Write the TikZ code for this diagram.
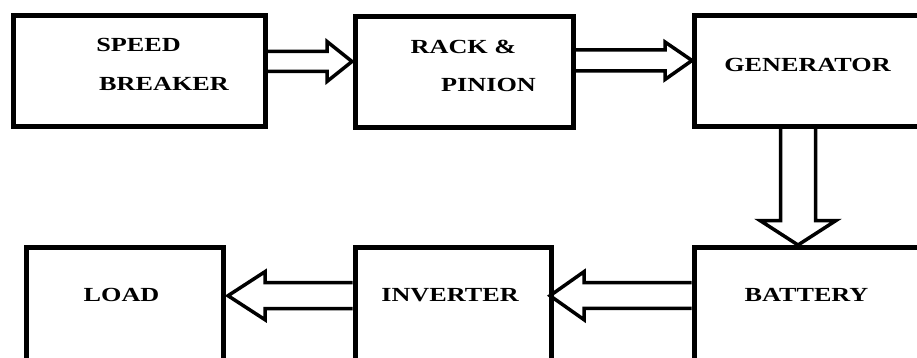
\documentclass[tikz,border=0pt]{standalone}
\usepackage{fontspec}
\usepackage{graphicx}
\setmainfont{Liberation Serif}
\usetikzlibrary{calc}
\newcommand{\lbl}[1]{\scalebox{1.31}[1]{\bfseries #1}}
\begin{document}
\begin{tikzpicture}[x=1pt,y=-1pt,
  box/.style={draw, line width=5pt, inner sep=0pt, minimum width=#1, minimum height=111pt},
  txt/.style={anchor=base, inner sep=0pt, font=\fontsize{20}{20}\selectfont},
  arrowline/.style={draw, line width=3.5pt, line join=miter}]
\useasboundingbox (0,0) rectangle (917,358);
\clip (0,0) rectangle (917,358);
% boxes
\node[box=252pt] (sb) at (139,71) {};
\node[box=218.5pt] (rp) at (464.25,72.5) {};
\node[box=236pt] (gen) at (812,71.25) {};
\node[box=197.5pt, minimum height=122.5pt] (load) at (124.75,308.75) {};
\node[box=196pt, minimum height=122.5pt] (inv) at (453,308.75) {};
\node[box=236pt, minimum height=122.5pt] (bat) at (812,308.5) {};
% texts
\node[txt] (t1) at (138.5,51.6) {\lbl{SPEED}};
\node[txt] (t2) at (164,90.6) {\lbl{BREAKER}};
\node[txt] (t3) at (463.5,53.1) {\lbl{RACK \&}};
\node[txt] (t4) at (488.5,91.6) {\lbl{PINION}};
\node[txt] (t5) at (807.5,71.6) {\lbl{GENERATOR}};
\node[txt] (t6) at (121.5,301.6) {\lbl{LOAD}};
\node[txt] (t7) at (450,301.6) {\lbl{INVERTER}};
\node[txt] (t8) at (806.5,301.6) {\lbl{BATTERY}};
% arrow end points
\coordinate (a1s) at (sb.east |- 0,61.5);
\coordinate (a1e) at (352,61.5);
\coordinate (a2s) at (rp.east |- 0,60.5);
\coordinate (a2e) at (692,60.5);
\coordinate (a3s) at (798,127);
\coordinate (a3e) at (798,245);
\coordinate (a4s) at (bat.west |- 0,295.7);
\coordinate (a4e) at (550,295.7);
\coordinate (a5s) at (inv.west |- 0,295.7);
\coordinate (a5e) at (228,295.7);
% block arrows
\draw[arrowline] ($(a1s)+(0,-10)$) -- ($(a1e)+(-25,-10)$) -- ($(a1e)+(-25,-20)$) -- (a1e)
  -- ($(a1e)+(-25,20)$) -- ($(a1e)+(-25,10)$) -- ($(a1s)+(0,10)$);
\draw[arrowline] ($(a2s)+(0,-10.5)$) -- ($(a2e)+(-27,-10.5)$) -- ($(a2e)+(-27,-18.5)$) -- (a2e)
  -- ($(a2e)+(-27,19)$) -- ($(a2e)+(-27,10.5)$) -- ($(a2s)+(0,10.5)$);
\draw[arrowline] ($(a3s)+(-17.5,0)$) -- ($(a3e)+(-17.5,-24.5)$) -- ($(a3e)+(-38,-24.5)$) -- (a3e)
  -- ($(a3e)+(38,-24.5)$) -- ($(a3e)+(17.5,-24.5)$) -- ($(a3s)+(17.5,0)$);
\draw[arrowline] ($(a4s)+(0,-13)$) -- ($(a4e)+(34,-13)$) -- ($(a4e)+(34,-24)$) -- (a4e)
  -- ($(a4e)+(34,24)$) -- ($(a4e)+(34,12.6)$) -- ($(a4s)+(0,12.6)$);
\draw[arrowline] ($(a5s)+(0,-13)$) -- ($(a5e)+(37,-13)$) -- ($(a5e)+(37,-24)$) -- (a5e)
  -- ($(a5e)+(37,24)$) -- ($(a5e)+(37,13)$) -- ($(a5s)+(0,13)$);
\end{tikzpicture}
\end{document}
